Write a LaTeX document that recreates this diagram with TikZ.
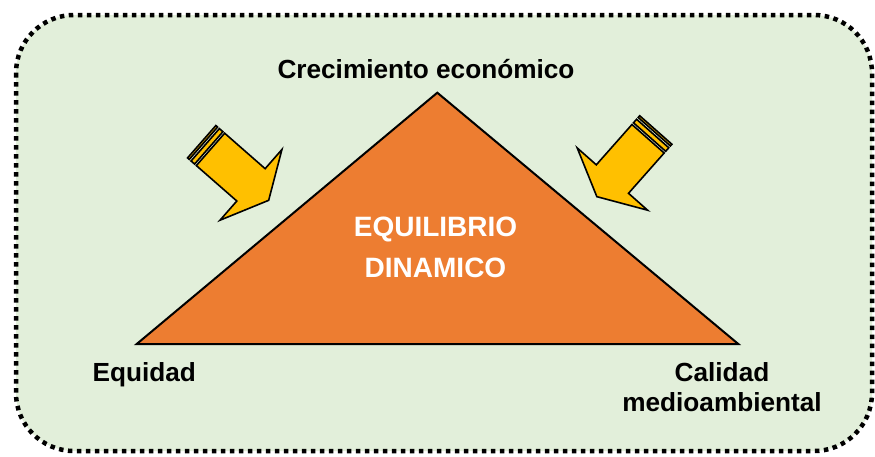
\documentclass[tikz,border=0pt]{standalone}
\usepackage{fontspec}
\setmainfont{Liberation Sans}
\definecolor{bggreen}{HTML}{E2EFDA}
\definecolor{triorange}{HTML}{ED7D31}
\definecolor{arryellow}{HTML}{FFC000}
\newcommand{\stripearrowshape}{%
  \draw[arrowpart] (0,-21.5) rectangle (2.3,21.5);
  \draw[arrowpart] (4.7,-21.5) rectangle (9.4,21.5);
  \draw[arrowpart] (11.7,-21.5) -- (65.5,-21.5) -- (65.5,-47) -- (89,0) -- (65.5,47) -- (65.5,21.5) -- (11.7,21.5) -- cycle;
}
\begin{document}
\begin{tikzpicture}[x=1pt,y=-1pt,
  lbl/.style={font=\fontsize{26.2}{30}\selectfont\bfseries, inner sep=0pt, align=center},
  inlbl/.style={font=\fontsize{28}{41.3}\selectfont\bfseries, text=white, inner sep=0pt, align=center},
  arrowpart/.style={fill=arryellow, draw=black, line width=1.6pt, line join=miter}]
\useasboundingbox (0,0) rectangle (875,456);
% frame
\draw[fill=bggreen, line width=4.5pt, dash pattern=on 4.5pt off 4.5pt, rounded corners=58pt] (16,15) rectangle (872,451);
% triangle
\coordinate (apex) at (437.3,92.7);
\coordinate (left) at (136.7,344);
\coordinate (right) at (738.3,344);
\draw[fill=triorange, line width=2pt, line join=miter] (apex) -- (left) -- (right) -- cycle;
% striped arrows
\begin{scope}[shift={(201.7,141.7)}, rotate=-41.2]
  \stripearrowshape
\end{scope}
\begin{scope}[shift={(655.8,130)}, rotate=228.5]
  \stripearrowshape
\end{scope}
% labels
\node[lbl, anchor=base] (crec) at (426,78.3) {Crecimiento económico};
\node[lbl, anchor=base] (equi) at (144.2,381.7) {Equidad};
\node[lbl, anchor=base] (cali) at (722,411.7) {Calidad\\medioambiental};
\node[inlbl, anchor=base] (equil) at (435.5,277.3) {EQUILIBRIO\\DINAMICO};
\end{tikzpicture}
\end{document}
